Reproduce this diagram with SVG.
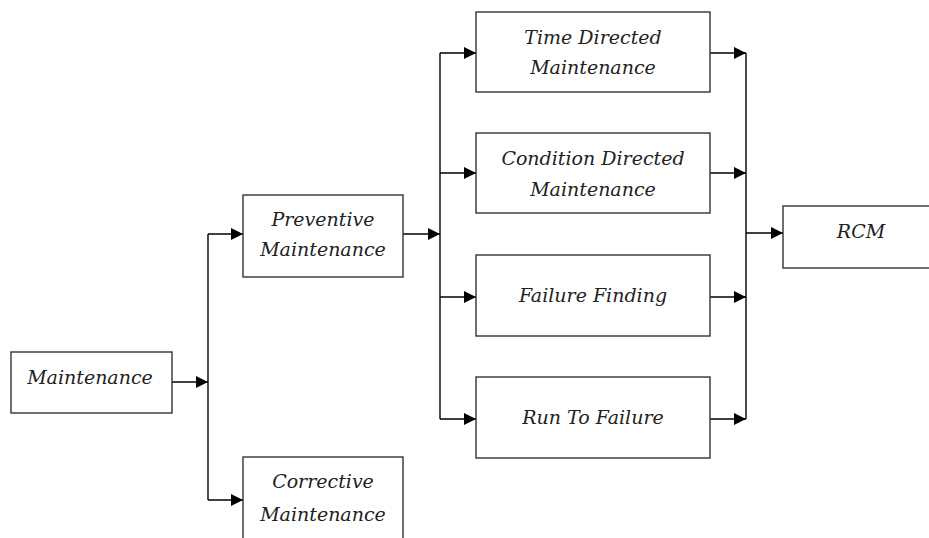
<svg xmlns="http://www.w3.org/2000/svg" width="929" height="538" viewBox="0 0 929 538">
<style>
.box{fill:#fff;stroke:#333;stroke-width:1.4}
.t{font-family:"DejaVu Serif","Liberation Serif",serif;font-style:italic;font-size:19px;fill:#222;text-anchor:middle}
.c{fill:none;stroke:#000;stroke-width:1.4}
</style>
<defs>
<marker id="ah" markerUnits="userSpaceOnUse" markerWidth="12" markerHeight="12" refX="12" refY="6" orient="auto">
<path d="M0,0 L12,6 L0,12 z" fill="#000"/>
</marker>
</defs>
<rect width="929" height="538" fill="#fff"/>
<g id="connectors">
<path class="c" d="M172,382 H208" marker-end="url(#ah)"/>
<path class="c" d="M208,234 V500"/>
<path class="c" d="M208,234 H243" marker-end="url(#ah)"/>
<path class="c" d="M208,500 H243" marker-end="url(#ah)"/>
<path class="c" d="M403,234 H440" marker-end="url(#ah)"/>
<path class="c" d="M440,53 V419"/>
<path class="c" d="M440,53 H476" marker-end="url(#ah)"/>
<path class="c" d="M440,173 H476" marker-end="url(#ah)"/>
<path class="c" d="M440,297 H476" marker-end="url(#ah)"/>
<path class="c" d="M440,419 H476" marker-end="url(#ah)"/>
<path class="c" d="M710,53 H746" marker-end="url(#ah)"/>
<path class="c" d="M710,173 H746" marker-end="url(#ah)"/>
<path class="c" d="M710,297 H746" marker-end="url(#ah)"/>
<path class="c" d="M710,419 H746" marker-end="url(#ah)"/>
<path class="c" d="M746,53 V419"/>
<path class="c" d="M746,233 H783" marker-end="url(#ah)"/>
</g>
<g id="maintenance">
<rect class="box" x="11" y="352" width="161" height="61"/>
<text class="t" x="90" y="384">Maintenance</text>
</g>
<g id="preventive">
<rect class="box" x="243" y="195" width="160" height="82"/>
<text class="t" x="323" y="226">Preventive</text>
<text class="t" x="323" y="256">Maintenance</text>
</g>
<g id="corrective">
<rect class="box" x="243" y="457" width="160" height="90"/>
<text class="t" x="323" y="488">Corrective</text>
<text class="t" x="323" y="521">Maintenance</text>
</g>
<g id="time-directed">
<rect class="box" x="476" y="12" width="234" height="80"/>
<text class="t" x="593" y="44">Time Directed</text>
<text class="t" x="593" y="74">Maintenance</text>
</g>
<g id="condition-directed">
<rect class="box" x="476" y="133" width="234" height="80"/>
<text class="t" x="593" y="165">Condition Directed</text>
<text class="t" x="593" y="196">Maintenance</text>
</g>
<g id="failure-finding">
<rect class="box" x="476" y="255" width="234" height="81"/>
<text class="t" x="593" y="302">Failure Finding</text>
</g>
<g id="run-to-failure">
<rect class="box" x="476" y="377" width="234" height="81"/>
<text class="t" x="593" y="424">Run To Failure</text>
</g>
<g id="rcm">
<rect class="box" x="783" y="206" width="160" height="62"/>
<text class="t" x="861" y="238">RCM</text>
</g>
</svg>
